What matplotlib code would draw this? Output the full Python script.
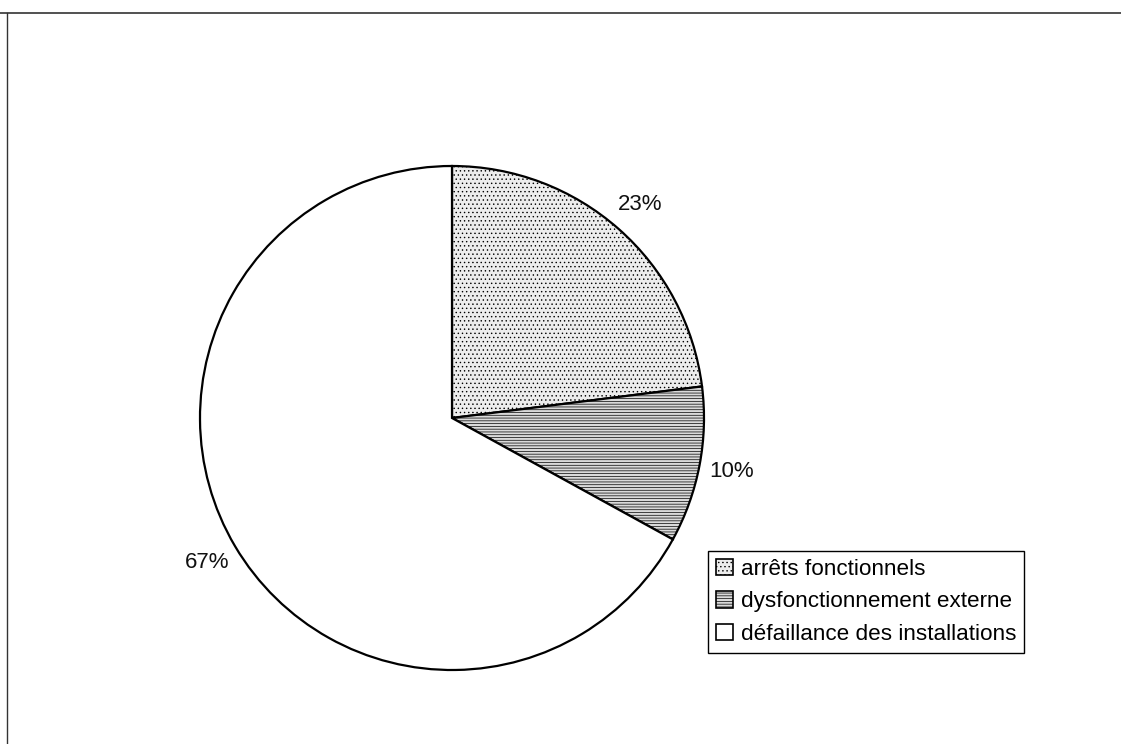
import matplotlib
matplotlib.use("Agg")
import matplotlib.pyplot as plt
from matplotlib.lines import Line2D

# Breakdown of stoppages by cause (percent)
categories = ["arrêts fonctionnels", "dysfonctionnement externe", "défaillance des installations"]
shares = [23, 10, 67]
face_colors = ["#ededed", "#dadada", "#ffffff"]
hatches = ["....", "------", ""]

plt.rcParams["font.family"] = ["Liberation Sans", "DejaVu Sans"]
plt.rcParams["hatch.color"] = "#9a9a9a"
plt.rcParams["hatch.linewidth"] = 0.5

W, H = 1121, 744
fig = plt.figure(figsize=(W / 100, H / 100), dpi=100)
fig.patch.set_facecolor("white")

ax = fig.add_axes([0, 0, 1, 1])

wedges, _, pct_texts = ax.pie(
    shares,
    center=(452, H - 418),
    radius=252,
    startangle=90,
    counterclock=False,
    colors=face_colors,
    autopct="%d%%",
    pctdistance=1.13,
    wedgeprops=dict(edgecolor="black", linewidth=1.6),
    textprops=dict(fontsize=16, color="#111111"),
    frame=True,
)
ax.set_xlim(0, W)
ax.set_ylim(0, H)
ax.set_aspect("equal")
ax.axis("off")
for w, h in zip(wedges, hatches):
    w.set_hatch(h)

leg = fig.legend(
    wedges,
    categories,
    loc="upper left",
    bbox_to_anchor=(708 / W, 1 - 551 / H),
    frameon=True,
    fancybox=False,
    edgecolor="black",
    framealpha=1,
    fontsize=16.2,
    handlelength=0.75,
    handleheight=0.75,
    handletextpad=0.35,
    labelspacing=0.5,
    borderpad=0.35,
    borderaxespad=0,
)
leg.get_frame().set_linewidth(1.0)
for h in leg.legend_handles:
    h.set_edgecolor("black")
    h.set_linewidth(1.2)

# Outer frame: top and left rules
fig.add_artist(Line2D([0, 1], [1 - 12.5 / H, 1 - 12.5 / H], transform=fig.transFigure,
                      color="#333333", linewidth=1.2))
fig.add_artist(Line2D([6.5 / W, 6.5 / W], [0, 1 - 12.5 / H], transform=fig.transFigure,
                      color="#333333", linewidth=1.0))

fig.savefig("out.png", dpi=100, facecolor="white")
